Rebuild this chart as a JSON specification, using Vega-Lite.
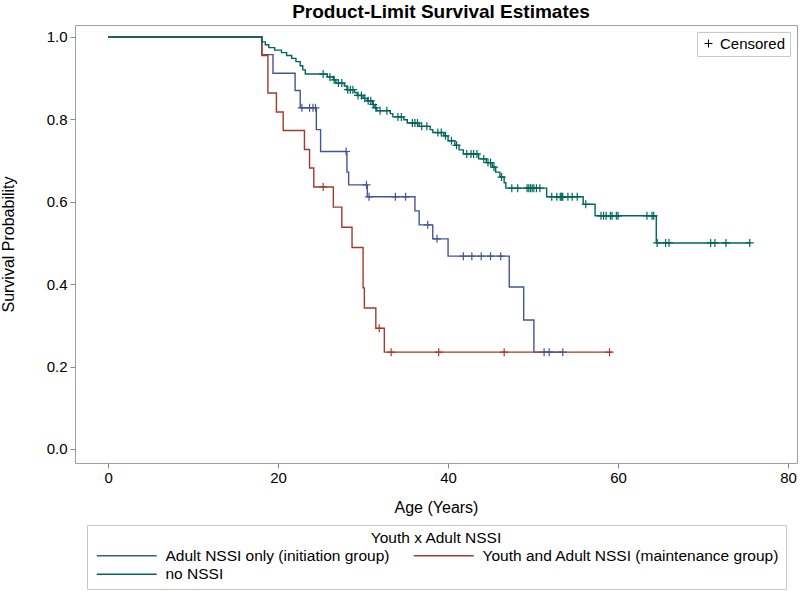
{
 "$schema": "https://vega.github.io/schema/vega-lite/v6.json",
 "autosize": {"type": "none"},
 "padding": {"left": 75, "top": 25, "right": 3, "bottom": 128},
 "width": 722,
 "height": 438,
 "background": "white",
 "config": {"font": "Liberation Sans", "view": {"stroke": "#a0a0a0", "strokeWidth": 1}},
 "title": {"text": "Product-Limit Survival Estimates", "fontSize": 19, "fontWeight": "bold", "anchor": "middle", "frame": "group", "offset": 8, "baseline": "bottom", "dx": 5, "dy": 24, "color": "#000"},
 "data": {"values": [
  {"g":"a","age":0,"s":1,"k":"step"},{"g":"a","age":18.1,"s":0.957,"k":"step"},{"g":"a","age":19.4,"s":0.912,"k":"step"},{"g":"a","age":22.0,"s":0.870,"k":"step"},{"g":"a","age":22.6,"s":0.828,"k":"step"},{"g":"a","age":24.5,"s":0.775,"k":"step"},{"g":"a","age":25.0,"s":0.722,"k":"step"},{"g":"a","age":28.1,"s":0.672,"k":"step"},{"g":"a","age":28.3,"s":0.641,"k":"step"},{"g":"a","age":30.5,"s":0.612,"k":"step"},{"g":"a","age":36.1,"s":0.578,"k":"step"},{"g":"a","age":36.6,"s":0.544,"k":"step"},{"g":"a","age":38.2,"s":0.510,"k":"step"},{"g":"a","age":40.0,"s":0.468,"k":"step"},{"g":"a","age":47.2,"s":0.393,"k":"step"},{"g":"a","age":48.9,"s":0.313,"k":"step"},{"g":"a","age":50.1,"s":0.235,"k":"step"},{"g":"a","age":53.5,"s":0.235,"k":"step"},
  {"g":"a","age":22.8,"s":0.828,"k":"Censored"},{"g":"a","age":23.7,"s":0.828,"k":"Censored"},{"g":"a","age":24.1,"s":0.828,"k":"Censored"},{"g":"a","age":24.4,"s":0.828,"k":"Censored"},{"g":"a","age":28.0,"s":0.722,"k":"Censored"},{"g":"a","age":30.4,"s":0.641,"k":"Censored"},{"g":"a","age":30.7,"s":0.612,"k":"Censored"},{"g":"a","age":33.8,"s":0.612,"k":"Censored"},{"g":"a","age":35.0,"s":0.612,"k":"Censored"},{"g":"a","age":37.6,"s":0.544,"k":"Censored"},{"g":"a","age":38.7,"s":0.510,"k":"Censored"},{"g":"a","age":41.8,"s":0.468,"k":"Censored"},{"g":"a","age":42.8,"s":0.468,"k":"Censored"},{"g":"a","age":43.9,"s":0.468,"k":"Censored"},{"g":"a","age":45.0,"s":0.468,"k":"Censored"},{"g":"a","age":46.2,"s":0.468,"k":"Censored"},{"g":"a","age":51.3,"s":0.235,"k":"Censored"},{"g":"a","age":51.9,"s":0.235,"k":"Censored"},{"g":"a","age":53.5,"s":0.235,"k":"Censored"},
  {"g":"y","age":0,"s":1,"k":"step"},{"g":"y","age":18.1,"s":0.955,"k":"step"},{"g":"y","age":18.8,"s":0.864,"k":"step"},{"g":"y","age":19.8,"s":0.818,"k":"step"},{"g":"y","age":20.6,"s":0.773,"k":"step"},{"g":"y","age":23.1,"s":0.727,"k":"step"},{"g":"y","age":23.7,"s":0.682,"k":"step"},{"g":"y","age":24.2,"s":0.636,"k":"step"},{"g":"y","age":26.5,"s":0.587,"k":"step"},{"g":"y","age":27.5,"s":0.538,"k":"step"},{"g":"y","age":28.7,"s":0.489,"k":"step"},{"g":"y","age":30.0,"s":0.391,"k":"step"},{"g":"y","age":30.15,"s":0.342,"k":"step"},{"g":"y","age":31.5,"s":0.293,"k":"step"},{"g":"y","age":32.5,"s":0.235,"k":"step"},{"g":"y","age":59.3,"s":0.235,"k":"step"},
  {"g":"y","age":25.3,"s":0.636,"k":"Censored"},{"g":"y","age":31.9,"s":0.293,"k":"Censored"},{"g":"y","age":33.3,"s":0.235,"k":"Censored"},{"g":"y","age":38.9,"s":0.235,"k":"Censored"},{"g":"y","age":46.6,"s":0.235,"k":"Censored"},{"g":"y","age":59.0,"s":0.235,"k":"Censored"},
  {"g":"n","age":0,"s":1,"k":"step"},{"g":"n","age":18.1,"s":0.988,"k":"step"},{"g":"n","age":18.5,"s":0.981,"k":"step"},{"g":"n","age":18.9,"s":0.974,"k":"step"},{"g":"n","age":19.6,"s":0.968,"k":"step"},{"g":"n","age":20.4,"s":0.962,"k":"step"},{"g":"n","age":21.0,"s":0.955,"k":"step"},{"g":"n","age":21.6,"s":0.948,"k":"step"},{"g":"n","age":22.1,"s":0.940,"k":"step"},{"g":"n","age":22.6,"s":0.930,"k":"step"},{"g":"n","age":22.9,"s":0.920,"k":"step"},{"g":"n","age":23.2,"s":0.910,"k":"step"},{"g":"n","age":25.8,"s":0.903,"k":"step"},{"g":"n","age":26.5,"s":0.896,"k":"step"},{"g":"n","age":26.8,"s":0.888,"k":"step"},{"g":"n","age":27.8,"s":0.881,"k":"step"},{"g":"n","age":28.1,"s":0.872,"k":"step"},{"g":"n","age":29.0,"s":0.865,"k":"step"},{"g":"n","age":29.3,"s":0.858,"k":"step"},{"g":"n","age":30.0,"s":0.851,"k":"step"},{"g":"n","age":30.5,"s":0.845,"k":"step"},{"g":"n","age":31.1,"s":0.836,"k":"step"},{"g":"n","age":31.4,"s":0.828,"k":"step"},{"g":"n","age":31.6,"s":0.821,"k":"step"},{"g":"n","age":33.2,"s":0.814,"k":"step"},{"g":"n","age":33.5,"s":0.806,"k":"step"},{"g":"n","age":34.8,"s":0.799,"k":"step"},{"g":"n","age":35.2,"s":0.791,"k":"step"},{"g":"n","age":36.6,"s":0.783,"k":"step"},{"g":"n","age":37.9,"s":0.775,"k":"step"},{"g":"n","age":38.2,"s":0.768,"k":"step"},{"g":"n","age":39.5,"s":0.760,"k":"step"},{"g":"n","age":40.0,"s":0.748,"k":"step"},{"g":"n","age":40.8,"s":0.737,"k":"step"},{"g":"n","age":41.3,"s":0.726,"k":"step"},{"g":"n","age":41.8,"s":0.716,"k":"step"},{"g":"n","age":43.6,"s":0.704,"k":"step"},{"g":"n","age":44.5,"s":0.695,"k":"step"},{"g":"n","age":45.2,"s":0.684,"k":"step"},{"g":"n","age":45.6,"s":0.672,"k":"step"},{"g":"n","age":46.1,"s":0.660,"k":"step"},{"g":"n","age":46.6,"s":0.646,"k":"step"},{"g":"n","age":46.8,"s":0.633,"k":"step"},{"g":"n","age":51.6,"s":0.612,"k":"step"},{"g":"n","age":55.9,"s":0.594,"k":"step"},{"g":"n","age":57.3,"s":0.566,"k":"step"},{"g":"n","age":64.5,"s":0.500,"k":"step"},{"g":"n","age":75.6,"s":0.500,"k":"step"},
  {"g":"n","age":25.3,"s":0.910,"k":"Censored"},{"g":"n","age":26.1,"s":0.903,"k":"Censored"},{"g":"n","age":26.6,"s":0.896,"k":"Censored"},{"g":"n","age":27.1,"s":0.888,"k":"Censored"},{"g":"n","age":27.5,"s":0.888,"k":"Censored"},{"g":"n","age":28.2,"s":0.872,"k":"Censored"},{"g":"n","age":28.5,"s":0.872,"k":"Censored"},{"g":"n","age":28.8,"s":0.872,"k":"Censored"},{"g":"n","age":29.4,"s":0.858,"k":"Censored"},{"g":"n","age":29.8,"s":0.858,"k":"Censored"},{"g":"n","age":30.2,"s":0.851,"k":"Censored"},{"g":"n","age":30.6,"s":0.845,"k":"Censored"},{"g":"n","age":30.9,"s":0.845,"k":"Censored"},{"g":"n","age":31.2,"s":0.836,"k":"Censored"},{"g":"n","age":31.5,"s":0.828,"k":"Censored"},{"g":"n","age":32.0,"s":0.821,"k":"Censored"},{"g":"n","age":32.8,"s":0.821,"k":"Censored"},{"g":"n","age":34.1,"s":0.806,"k":"Censored"},{"g":"n","age":34.5,"s":0.806,"k":"Censored"},{"g":"n","age":35.8,"s":0.791,"k":"Censored"},{"g":"n","age":36.1,"s":0.791,"k":"Censored"},{"g":"n","age":36.4,"s":0.791,"k":"Censored"},{"g":"n","age":36.9,"s":0.783,"k":"Censored"},{"g":"n","age":37.5,"s":0.783,"k":"Censored"},{"g":"n","age":38.8,"s":0.768,"k":"Censored"},{"g":"n","age":39.2,"s":0.768,"k":"Censored"},{"g":"n","age":39.7,"s":0.760,"k":"Censored"},{"g":"n","age":40.4,"s":0.748,"k":"Censored"},{"g":"n","age":41.0,"s":0.737,"k":"Censored"},{"g":"n","age":42.2,"s":0.716,"k":"Censored"},{"g":"n","age":42.7,"s":0.716,"k":"Censored"},{"g":"n","age":43.0,"s":0.716,"k":"Censored"},{"g":"n","age":43.4,"s":0.716,"k":"Censored"},{"g":"n","age":44.2,"s":0.704,"k":"Censored"},{"g":"n","age":44.7,"s":0.695,"k":"Censored"},{"g":"n","age":45.0,"s":0.695,"k":"Censored"},{"g":"n","age":45.4,"s":0.684,"k":"Censored"},{"g":"n","age":46.3,"s":0.660,"k":"Censored"},{"g":"n","age":47.5,"s":0.633,"k":"Censored"},{"g":"n","age":48.2,"s":0.633,"k":"Censored"},{"g":"n","age":49.3,"s":0.633,"k":"Censored"},{"g":"n","age":49.5,"s":0.633,"k":"Censored"},{"g":"n","age":49.7,"s":0.633,"k":"Censored"},{"g":"n","age":49.9,"s":0.633,"k":"Censored"},{"g":"n","age":50.1,"s":0.633,"k":"Censored"},{"g":"n","age":50.4,"s":0.633,"k":"Censored"},{"g":"n","age":50.8,"s":0.633,"k":"Censored"},{"g":"n","age":52.2,"s":0.612,"k":"Censored"},{"g":"n","age":52.8,"s":0.612,"k":"Censored"},{"g":"n","age":53.2,"s":0.612,"k":"Censored"},{"g":"n","age":53.3,"s":0.612,"k":"Censored"},{"g":"n","age":53.4,"s":0.612,"k":"Censored"},{"g":"n","age":53.5,"s":0.612,"k":"Censored"},{"g":"n","age":54.1,"s":0.612,"k":"Censored"},{"g":"n","age":54.6,"s":0.612,"k":"Censored"},{"g":"n","age":55.2,"s":0.612,"k":"Censored"},{"g":"n","age":56.2,"s":0.594,"k":"Censored"},{"g":"n","age":58.0,"s":0.566,"k":"Censored"},{"g":"n","age":58.3,"s":0.566,"k":"Censored"},{"g":"n","age":58.6,"s":0.566,"k":"Censored"},{"g":"n","age":59.1,"s":0.566,"k":"Censored"},{"g":"n","age":59.3,"s":0.566,"k":"Censored"},{"g":"n","age":59.8,"s":0.566,"k":"Censored"},{"g":"n","age":60.0,"s":0.566,"k":"Censored"},{"g":"n","age":63.4,"s":0.566,"k":"Censored"},{"g":"n","age":64.0,"s":0.566,"k":"Censored"},{"g":"n","age":64.2,"s":0.566,"k":"Censored"},{"g":"n","age":64.6,"s":0.500,"k":"Censored"},{"g":"n","age":65.6,"s":0.500,"k":"Censored"},{"g":"n","age":66.0,"s":0.500,"k":"Censored"},{"g":"n","age":70.9,"s":0.500,"k":"Censored"},{"g":"n","age":71.4,"s":0.500,"k":"Censored"},{"g":"n","age":72.7,"s":0.500,"k":"Censored"},{"g":"n","age":75.5,"s":0.500,"k":"Censored"}
 ]},
 "encoding": {
  "x": {"field": "age", "type": "quantitative", "scale": {"domain": [-3.9, 81.06], "nice": false, "zero": false},
        "axis": {"values": [0, 20, 40, 60, 80], "title": "Age (Years)", "domain": false, "grid": false, "tickColor": "#888", "tickSize": 5, "labelFontSize": 15, "labelColor": "#000", "labelPadding": 2, "labelFlush": false, "titleFontSize": 16, "titleFontWeight": "normal", "titleColor": "#000", "titlePadding": 14}},
  "y": {"field": "s", "type": "quantitative", "scale": {"domain": [-0.034, 1.029], "nice": false, "zero": false},
        "axis": {"values": [0, 0.2, 0.4, 0.6, 0.8, 1.0], "format": ".1f", "title": "Survival Probability", "domain": false, "grid": false, "tickColor": "#888", "tickSize": 5, "labelFontSize": 15, "labelColor": "#000", "labelPadding": 3, "titleFontSize": 16, "titleFontWeight": "normal", "titleColor": "#000", "titlePadding": 30}}
 },
 "layer": [
  {
   "transform": [{"filter": "datum.k == 'step'"}],
   "mark": {"type": "line", "interpolate": "step-after", "strokeWidth": 1.4},
   "encoding": {
    "color": {"field": "g", "type": "nominal",
      "scale": {"domain": ["a", "y", "n"], "range": ["#445694", "#A23A2E", "#01665E"]},
      "legend": {"orient": "none", "legendX": 12, "legendY": 500, "title": "Youth x Adult NSSI", "titleAnchor": "middle", "titleFontWeight": "normal", "titleFontSize": 15.5, "titleColor": "#000", "columns": 2, "direction": "horizontal", "symbolType": "M-0.8,0H11.2", "symbolSize": 100, "symbolStrokeWidth": 1.5, "labelFontSize": 15.5, "labelColor": "#000", "labelLimit": 1000, "labelOffset": 57, "strokeColor": "#c8c8c8", "padding": 6, "columnPadding": 20, "rowPadding": 2, "titlePadding": 1,
        "labelExpr": "datum.label == 'a' ? 'Adult NSSI only (initiation group)' : datum.label == 'y' ? 'Youth and Adult NSSI (maintenance group)\u00a0\u00a0\u00a0\u00a0\u00a0' : 'no NSSI'"}}
   }
  },
  {
   "transform": [{"filter": "datum.k == 'Censored'"}],
   "mark": {"type": "point", "filled": false, "size": 64, "strokeWidth": 1.2, "opacity": 1},
   "encoding": {
    "color": {"field": "g", "type": "nominal"},
    "shape": {"field": "k", "type": "nominal", "scale": {"domain": ["Censored"], "range": ["M0,-1V1M-1,0H1"]},
      "legend": {"orient": "top-right", "offset": 7, "title": null, "strokeColor": "#c8c8c8", "padding": 4, "symbolStrokeColor": "#000", "symbolFillColor": "transparent", "symbolSize": 64, "symbolStrokeWidth": 1, "labelFontSize": 15, "labelColor": "#000", "labelOffset": 4, "fillColor": "white"}}
   }
  }
 ]
}
